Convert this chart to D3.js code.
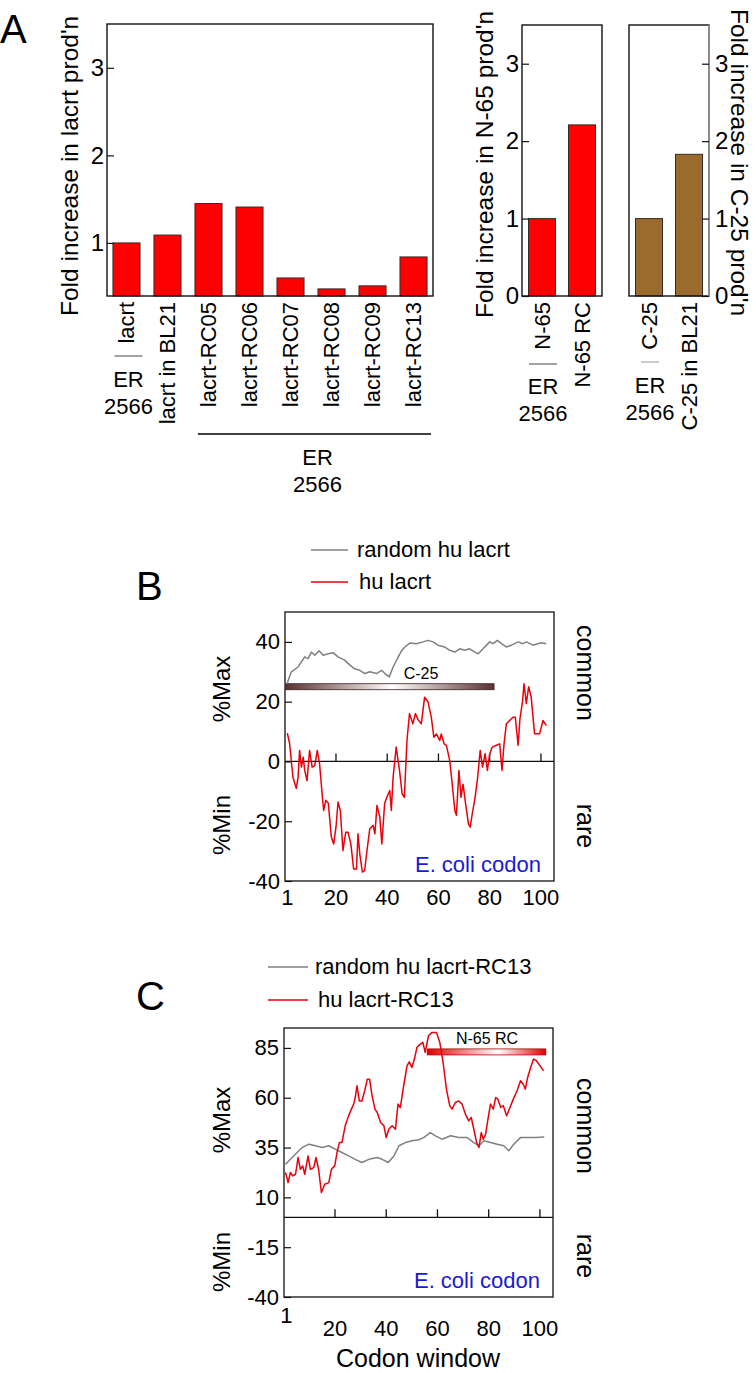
<!DOCTYPE html>
<html><head><meta charset="utf-8">
<script src="https://cdn.jsdelivr.net/npm/d3@7"></script>
<style>
body{margin:0;background:#fff}
svg{display:block}
text{font-family:"Liberation Sans",Arial,Helvetica,sans-serif;fill:#000}
</style>
</head><body>
<svg id="c" width="756" height="1373"></svg>
<script>
// ---------------- DATA ----------------
const lacrtCats = ["lacrt","lacrt in BL21","lacrt-RC05","lacrt-RC06","lacrt-RC07","lacrt-RC08","lacrt-RC09","lacrt-RC13"];
const lacrtFold = [1.0,1.09,1.45,1.41,0.60,0.475,0.51,0.84];
const n65Cats = ["N-65","N-65 RC"];
const n65Fold = [1.0,2.21];
const c25Cats = ["C-25","C-25 in BL21"];
const c25Fold = [1.0,1.83];
const lacrtTicks = [1,2,3];
const smallTicks = [0,1,2,3];

const bRandom = [[1,26],[1.3,27],[2.6,30],[5.2,31.6],[7.8,35],[9.1,34.4],[10.4,36.6],[11.7,35.5],[13.4,37],[15,35.5],[17,36],[18.9,36.4],[20.8,35],[23.4,33.9],[25.3,32.3],[27.3,31],[29.3,30.5],[31.2,29.4],[33.2,30],[35.8,29.4],[37.8,30.5],[39.1,29.4],[40.8,28.3],[42.3,31.6],[44.3,35],[45.6,37],[46.9,38.3],[48.8,39.6],[51.4,39.4],[54,40],[55.9,40.5],[57.9,40],[59.8,38.9],[62.4,38.3],[64.4,37.2],[66.4,36.6],[68.3,37.7],[70.3,37.2],[72.2,37.7],[74.2,36.6],[75.5,36],[77.4,37.7],[80,40],[81.3,39.4],[83,40.5],[84.6,39.4],[86.5,38.3],[88.5,38.9],[91.1,40],[93,39.4],[94.3,40],[96.9,38.9],[98.8,39.4],[100.1,39.7],[102.1,39.4]];
const bHu = [[1,9.5],[1.9,6],[3.2,-5.3],[4.5,-9],[5.2,-5.3],[5.8,3.7],[6.5,-1.9],[7.2,1.4],[7.8,-3],[8.7,-6.4],[9.7,3.7],[10.7,-1.9],[11.7,-1.4],[12.7,3.7],[13.6,-0.8],[14.7,-12],[15.2,-16.4],[16,-13],[17,-14],[18.2,-25.3],[19.1,-27.6],[20,-22],[20.8,-13.6],[21.7,-16.4],[22.7,-29.8],[23.8,-23.7],[24.7,-23.7],[25.8,-27.6],[26.9,-36],[28,-36],[28.6,-24.2],[29.3,-31],[30.3,-37],[31.2,-36.5],[32.1,-29.8],[33.2,-22.5],[34.5,-21.4],[35.2,-24.2],[36,-14.7],[37.1,-18.6],[37.9,-27.6],[39,-14],[39.9,-11.9],[41,-9.7],[41.6,-16.4],[42.3,-5.3],[43.5,4.8],[44.8,-3],[45.8,-10.8],[46.7,-12],[47.7,7],[48.7,16],[50,12.6],[51,16],[52,14],[53.3,12.6],[54.6,21.5],[55.9,20],[57.2,14.8],[58.2,8.1],[59.2,9.2],[60.5,7],[61.1,9.2],[62.2,5.9],[63.1,5.4],[64.4,0.3],[65.1,-5.3],[66.4,-16.4],[67,-18],[68,-3],[68.8,-12],[69.6,-7.6],[70.6,-14.2],[71.7,-20.9],[72.4,-22],[73.2,-17.5],[74.3,-12],[75.3,-5.3],[76.3,3.7],[77.2,-1.9],[78.2,2.6],[79.1,-3],[80,2.6],[81,4.8],[82.6,5.4],[83.9,5.9],[84.8,-3],[85.6,5.9],[86.5,12.6],[87.8,13.7],[89.1,14.8],[90,14.8],[91.1,5.4],[91.8,14.2],[92.8,20],[93.4,26],[94.3,19.3],[95.2,25],[96.2,21.5],[97.5,9.3],[99.5,9.3],[100.8,13.7],[102.1,12]];

const cRandom = [[0.7,26.6],[2.6,29.1],[5.2,32.5],[7.2,35],[9.8,36.7],[12.4,35.9],[15,35],[17.6,35.9],[20.1,34.2],[22.7,32.5],[25.3,30.8],[27.9,29.1],[30.5,27.5],[33.2,29.1],[36.5,30],[38.4,29.1],[40.8,27.5],[43,30.8],[45,35.9],[47.5,37.5],[50.1,38.4],[52.7,38.9],[54.6,40],[57.2,42.5],[59.2,40.9],[61.8,39.2],[65.1,40.9],[68.3,40],[71.6,40],[74.2,37.5],[76.2,35.9],[78.2,38.4],[80.7,37.5],[83.3,36.7],[85.9,35.9],[87.8,33.4],[89.8,36.7],[92.4,40],[95,40],[98.3,40],[101.7,40.3]];
const cHu = [[0.7,22.5],[1.7,17.4],[2.6,22.5],[3.5,20.8],[4.6,21.6],[5.6,30],[6.5,24.1],[7.4,25.8],[8.2,21.6],[9.5,30.8],[10.4,24.1],[11.7,24.9],[12.6,30],[13.6,24.1],[14.7,12.4],[16,16.6],[17.6,17.4],[18.6,24.1],[19.9,25.8],[20.8,32.5],[21.7,37.5],[22.7,37.5],[24,45.9],[25.3,50.9],[26.4,54.3],[27.3,56.8],[27.9,60.1],[28.6,66],[29.5,58.4],[30.5,58.4],[31.6,63.5],[32.6,69.3],[33.5,69.3],[34.5,60.9],[35.6,54.3],[36.5,52.6],[37.8,47.6],[39.1,45.9],[40,40],[41,44.2],[42.3,45.9],[43.6,44.2],[44.6,56.8],[45.5,55.1],[46.8,66],[48.1,76],[49,78],[50,75.2],[51,79.4],[52,85.3],[53.3,86.9],[54.3,87.8],[55.2,82.8],[56.5,91.1],[57.9,92.8],[59.6,92.8],[60.9,87.8],[62.2,77.7],[63.5,64.3],[64.8,55.9],[65.7,54.3],[67,57.6],[68.3,58.4],[69.6,56.8],[70.9,51.8],[72.2,48.4],[73.2,50.1],[74.2,44.2],[75.3,37.5],[76.2,35],[77.1,42.5],[77.9,39.2],[78.8,41.7],[79.7,49.2],[80.7,56.8],[81.8,54.3],[82.7,60.1],[83.6,59.3],[84.7,55.1],[85.7,56],[87,51],[88.3,55.1],[89.6,59.3],[91.1,63.5],[92.4,68.5],[93.5,66.8],[94.3,64.3],[95.2,70.2],[96.2,74.4],[97.5,79.4],[98.6,78.6],[100.1,76],[101.4,73.5]];

const codonXTicks = [20,40,60,80,100];
const codonXLabels = [1,20,40,60,80,100];
const bYTicks = [-40,-20,0,20,40];
const cYTicks = [-40,-15,10,35,60,85];
const c25Span = [0.4,81.7], c25Level = 25;
const n65Span = [56,102.3], n65Level = 83;

// ---------------- DRAW ----------------
const svg = d3.select("#c");
const FONT = '"Liberation Sans",Arial,Helvetica,sans-serif';
const RED = "#ff0000", BROWN = "#9b6a2d", LRED = "#e8000b", GRAY = "#808080";

function txt(g, x, y, s, size, anchor) {
  return g.append("text").attr("x", x).attr("y", y).text(s)
    .style("font-size", size + "px").attr("text-anchor", anchor || "start");
}
function rotTxt(g, x, y, s, size, angle, anchor, dy) {
  return g.append("text").attr("transform", `translate(${x},${y}) rotate(${angle})`)
    .attr("text-anchor", anchor).attr("dy", dy || 0).style("font-size", size + "px").text(s);
}

// Panel letters
txt(svg, 0, 43, "A", 40);
txt(svg, 136, 600, "B", 40);
txt(svg, 136, 1010, "C", 40);

// ---- Panel A bar charts ----
function barChart(cfg) {
  const g = svg.append("g");
  const x = d3.scaleBand().domain(cfg.cats).range([cfg.x0, cfg.x1])
    .paddingInner(cfg.pi).paddingOuter(cfg.po);
  const y = d3.scaleLinear().domain(cfg.ydom).range([296, cfg.top]);
  g.selectAll("rect.bar").data(cfg.vals).join("rect")
    .attr("class", "bar")
    .attr("x", (d, i) => x(cfg.cats[i]))
    .attr("width", x.bandwidth())
    .attr("y", d => y(d))
    .attr("height", d => y(cfg.ydom[0]) - y(d))
    .attr("fill", cfg.color).attr("stroke", "#3a2a2a").attr("stroke-width", 1);
  g.append("rect").attr("x", cfg.x0).attr("y", cfg.top).attr("width", cfg.x1 - cfg.x0)
    .attr("height", 296 - cfg.top).attr("fill", "none").attr("stroke", "#111").attr("stroke-width", 1.4);
  if (cfg.right) {
    g.append("line").attr("x1", cfg.x1).attr("x2", cfg.x1).attr("y1", cfg.top).attr("y2", 296)
      .attr("stroke", "#999").attr("stroke-width", 1.6);
  }
  const ax = (cfg.right ? d3.axisRight(y) : d3.axisLeft(y))
    .tickValues(cfg.ticks).tickSize(-7).tickPadding(cfg.pad).tickFormat(d3.format("d"));
  const ag = g.append("g").attr("transform", `translate(${cfg.right ? cfg.x1 : cfg.x0},0)`).call(ax);
  ag.select(".domain").remove();
  ag.selectAll("line").attr("stroke", "#111").attr("stroke-width", 1.2);
  ag.selectAll("text").style("font-size", "24px").style("font-family", FONT).attr("fill", "#000");
  cfg.cats.forEach((c) => {
    const cx = x(c) + x.bandwidth() / 2;
    rotTxt(g, cx, 302, c, 22, -90, "end", "0.35em");
  });
  return { g, x, y };
}

const A1 = barChart({ cats: lacrtCats, vals: lacrtFold, x0: 107, x1: 433, top: 24, ydom: [0.394, 3.5],
  pi: 0.34, po: 0.145, color: RED, ticks: lacrtTicks, pad: 3 });
const A2 = barChart({ cats: n65Cats, vals: n65Fold, x0: 522, x1: 602, top: 25, ydom: [0, 3.5],
  pi: 0.325, po: 0.1625, color: RED, ticks: smallTicks, pad: 3 });
const A3 = barChart({ cats: c25Cats, vals: c25Fold, x0: 629, x1: 709, top: 25, ydom: [0, 3.5],
  pi: 0.325, po: 0.1625, color: BROWN, ticks: smallTicks, pad: 6, right: true });

// y titles (kept fully inside the page)
rotTxt(svg, 78, 316, "Fold increase in lacrt prod'n", 24.5, -90, "start");
rotTxt(svg, 493, 318, "Fold increase in N-65 prod'n", 24.5, -90, "start");
rotTxt(svg, 731, 9, "Fold increase in C-25 prod'n", 24.5, 90, "start");

// strain annotations
function strainLabel(cx, sepY, sepW, erY, numY, sepColor) {
  svg.append("line").attr("x1", cx - sepW / 2).attr("x2", cx + sepW / 2).attr("y1", sepY).attr("y2", sepY)
    .attr("stroke", sepColor).attr("stroke-width", 1.2);
  txt(svg, cx, erY, "ER", 22, "middle");
  txt(svg, cx, numY, "2566", 22, "middle");
}
const a1c0 = A1.x(lacrtCats[0]) + A1.x.bandwidth() / 2 + 2;
strainLabel(a1c0, 356, 28, 387, 414, "#666");
const a2c0 = A2.x(n65Cats[0]) + A2.x.bandwidth() / 2 + 1;
strainLabel(a2c0, 364, 28, 394, 421, "#666");
const a3c0 = A3.x(c25Cats[0]) + A3.x.bandwidth() / 2 + 1;
strainLabel(a3c0, 362, 18, 393, 420, "#aaa");
const gx0 = A1.x(lacrtCats[2]) + 3, gx1 = A1.x(lacrtCats[7]) + A1.x.bandwidth() + 4;
svg.append("line").attr("x1", gx0).attr("x2", gx1).attr("y1", 434).attr("y2", 434)
  .attr("stroke", "#000").attr("stroke-width", 1.3);
txt(svg, (gx0 + gx1) / 2 + 3, 465, "ER", 22, "middle");
txt(svg, (gx0 + gx1) / 2 + 3, 492, "2566", 22, "middle");

// ---- Panels B & C ----
function codonPanel(cfg) {
  const g = svg.append("g");
  const x = d3.scaleLinear().domain([0.1, 105.1]).range([cfg.x0, cfg.x1]);
  const y = d3.scaleLinear().domain(cfg.ydom).range([cfg.bottom, cfg.top]);
  g.append("rect").attr("x", cfg.x0).attr("y", cfg.top).attr("width", cfg.x1 - cfg.x0)
    .attr("height", cfg.bottom - cfg.top).attr("fill", "none").attr("stroke", "#222").attr("stroke-width", 1.4);
  g.append("line").attr("x1", cfg.x0).attr("x2", cfg.x1).attr("y1", y(0)).attr("y2", y(0))
    .attr("stroke", "#111").attr("stroke-width", 1.3);
  g.selectAll("line.xt").data(codonXTicks).join("line").attr("class", "xt")
    .attr("x1", d => x(d)).attr("x2", d => x(d)).attr("y1", y(0)).attr("y2", y(0) - 8)
    .attr("stroke", "#111").attr("stroke-width", 1.3);
  const ag = g.append("g").attr("transform", `translate(${cfg.x0},0)`)
    .call(d3.axisLeft(y).tickValues(cfg.yticks).tickSize(-7).tickPadding(5).tickFormat(d3.format("d")));
  ag.select(".domain").remove();
  ag.selectAll("line").attr("stroke", "#111").attr("stroke-width", 1.2);
  ag.selectAll("text").style("font-size", "22px").style("font-family", FONT).attr("fill", "#000")
    .text(d => d < 0 ? "-" + Math.abs(d) : d);
  codonXLabels.forEach(v => {
    const yy = (v === 1 && cfg.oneUp) ? cfg.xlabY - 13 : cfg.xlabY;
    txt(g, x(v), yy, v, 22, "middle");
  });
  const gid = cfg.id;
  const grad = svg.append("defs").append("linearGradient").attr("id", gid)
    .attr("x1", "0%").attr("x2", "100%").attr("y1", "0%").attr("y2", "0%");
  grad.append("stop").attr("offset", "0%").attr("stop-color", cfg.barColor);
  grad.append("stop").attr("offset", cfg.mid).attr("stop-color", "#ffffff");
  grad.append("stop").attr("offset", "100%").attr("stop-color", cfg.barColor);
  g.append("rect").attr("x", x(cfg.span[0])).attr("width", x(cfg.span[1]) - x(cfg.span[0]))
    .attr("y", y(cfg.level) - 3).attr("height", 6).attr("fill", `url(#${gid})`)
    .attr("stroke", cfg.barStroke).attr("stroke-width", 0.8);
  txt(g, cfg.barLabelX, y(cfg.level) - 8, cfg.barLabel, 16, "middle");
  const line = d3.line().x(d => x(d[0])).y(d => y(d[1]));
  g.append("path").datum(cfg.gray).attr("d", line).attr("fill", "none")
    .attr("stroke", GRAY).attr("stroke-width", 1.5).attr("stroke-linejoin", "round");
  g.append("path").datum(cfg.red).attr("d", line).attr("fill", "none")
    .attr("stroke", LRED).attr("stroke-width", 1.5).attr("stroke-linejoin", "round");
  txt(g, x(100), cfg.ecoliY, "E. coli codon", 22, "end").style("fill", "#1a1ad6");
  rotTxt(g, 230, cfg.maxY, "%Max", 24, -90, "middle");
  rotTxt(g, 230, cfg.minY, "%Min", 24, -90, "middle");
  rotTxt(g, 577, cfg.commonY, "common", 25, 90, "middle");
  rotTxt(g, 577, cfg.rareY, "rare", 25, 90, "middle");
  const L = cfg.legend;
  g.append("line").attr("x1", L.lx0).attr("x2", L.lx1).attr("y1", L.y1).attr("y2", L.y1)
    .attr("stroke", GRAY).attr("stroke-width", 1.5);
  txt(g, L.tx1, L.y1 + 7, L.t1, 22, "start");
  g.append("line").attr("x1", L.lx0).attr("x2", L.lx1).attr("y1", L.y2).attr("y2", L.y2)
    .attr("stroke", LRED).attr("stroke-width", 1.5);
  txt(g, L.tx2, L.y2 + 7, L.t2, 22, "start");
  return { x, y };
}

codonPanel({ id: "gB", x0: 285, x1: 554, top: 612, bottom: 881, ydom: [-40, 50], yticks: bYTicks,
  xlabY: 905, oneUp: false, gray: bRandom, red: bHu,
  span: c25Span, level: c25Level, barColor: "#5a3131", barStroke: "#3a2020", mid: "51%",
  barLabel: "C-25", barLabelX: 421,
  ecoliY: 872, maxY: 689, minY: 825, commonY: 673, rareY: 826,
  legend: { lx0: 311, lx1: 348, y1: 550, tx1: 357, t1: "random hu lacrt", y2: 582, tx2: 359, t2: "hu lacrt" } });

codonPanel({ id: "gC", x0: 284, x1: 553, top: 1028, bottom: 1297, ydom: [-40, 95], yticks: cYTicks,
  xlabY: 1336, oneUp: true, gray: cRandom, red: cHu,
  span: n65Span, level: n65Level, barColor: "#e00000", barStroke: "#b00000", mid: "60%",
  barLabel: "N-65 RC", barLabelX: 487,
  ecoliY: 1288, maxY: 1120, minY: 1262, commonY: 1126, rareY: 1256,
  legend: { lx0: 268, lx1: 308, y1: 967, tx1: 315, t1: "random hu lacrt-RC13", y2: 1000, tx2: 318, t2: "hu lacrt-RC13" } });

txt(svg, 418, 1367, "Codon window", 25, "middle");
</script>
</body></html>
